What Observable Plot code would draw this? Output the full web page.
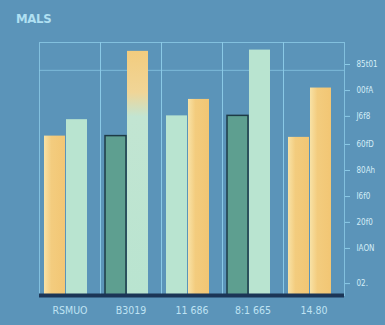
<!DOCTYPE html>
<html><head><meta charset="utf-8">
<script src="https://cdn.jsdelivr.net/npm/d3@7"></script>
<script src="https://cdn.jsdelivr.net/npm/@observablehq/plot@0.6"></script>
<style>
html,body{margin:0;padding:0;background:#5b94b9;}
#wrap{position:relative;width:385px;height:325px;overflow:hidden;}
#title{position:absolute;left:16px;top:11px;font:bold 13px "DejaVu Sans Condensed","DejaVu Sans",sans-serif;color:#b0e0f2;letter-spacing:-0.3px;}
</style></head>
<body><div id="wrap"><div id="title">MALS</div></div>
<script>
const groups = ["RSMUO", "B3019", "11 686", "8:1 665", "14.80"];
const slots = ["a", "b"];
const firstKind = ["yellow", "teal", "mint", "teal", "yellow"];
const secondKind = ["mint", "mintTop", "yellow", "mint", "yellow"];
const firstValues = [63, 63, 71, 71, 62.5];
const secondValues = [69.5, 96.5, 77.5, 97, 82];
const yTicks = [91.3, 81, 70.8, 59.7, 49.4, 39.1, 28.9, 18.6, 4.7];
const yTickLabels = ["85t01", "00fA", "J6f8", "60fD", "80Ah", "I6f0", "20f0", "IAON", "02."];
const kinds = ["yellow", "teal", "mint", "mintTop"];
const kindColors = ["url(#gy)", "#5e9f90", "#b9e4d0", "url(#gm)"];

const bars = [];
groups.forEach((g, i) => {
  bars.push({group: g, slot: slots[0], kind: firstKind[i], value: firstValues[i]});
  bars.push({group: g, slot: slots[1], kind: secondKind[i], value: secondValues[i]});
});

const chart = Plot.plot({
  width: 385, height: 325,
  marginLeft: 37, marginRight: 40, marginTop: 42, marginBottom: 30,
  style: {background: "transparent", fontFamily: "DejaVu Sans Condensed, DejaVu Sans, sans-serif"},
  fx: {domain: groups, padding: 0, label: null},
  x: {domain: slots, paddingInner: 0.05, paddingOuter: 0.4, align: 0.3, axis: null},
  y: {domain: [0, 100], axis: null},
  color: {domain: kinds, range: kindColors},
  marks: [
    Plot.frame({stroke: "#8ccbe7", strokeOpacity: 0.8}),
    Plot.ruleY([89], {stroke: "#8ccbe7", strokeOpacity: 0.7}),
    Plot.barY(bars, {fx: "group", x: "slot", y: "value", fill: "kind",
      stroke: d => d.kind === "teal" ? "#1d3a45" : "none", strokeWidth: 1.5}),
    Plot.ruleY([0], {stroke: "#1b3556", strokeWidth: 4}),
    Plot.axisY({anchor: "right", ticks: yTicks, tickSize: 5, tickPadding: 7,
      tickFormat: (d, i) => yTickLabels[i], label: null, stroke: "#8ccbe7",
      color: "#d3edf7", fontSize: 8}),
    Plot.axisFx({anchor: "bottom", tickSize: 0, tickPadding: 11, label: null,
      color: "#bfe3f3", fontSize: 10.5})
  ]
});
const ns = "http://www.w3.org/2000/svg";
const defs = document.createElementNS(ns, "defs");
defs.innerHTML = `
<linearGradient id="gy" x1="0" y1="0" x2="1" y2="0">
  <stop offset="0" stop-color="#f8e2a6"/><stop offset="0.35" stop-color="#f3cc7e"/><stop offset="1" stop-color="#f2c674"/>
</linearGradient>
<linearGradient id="gm" x1="0" y1="0" x2="0" y2="1">
  <stop offset="0" stop-color="#f3cc7e"/><stop offset="0.17" stop-color="#f0d597"/><stop offset="0.27" stop-color="#c2e5d2"/><stop offset="1" stop-color="#b9e4d0"/>
</linearGradient>`;
chart.insertBefore(defs, chart.firstChild);
document.getElementById("wrap").appendChild(chart);
</script>
</body></html>
